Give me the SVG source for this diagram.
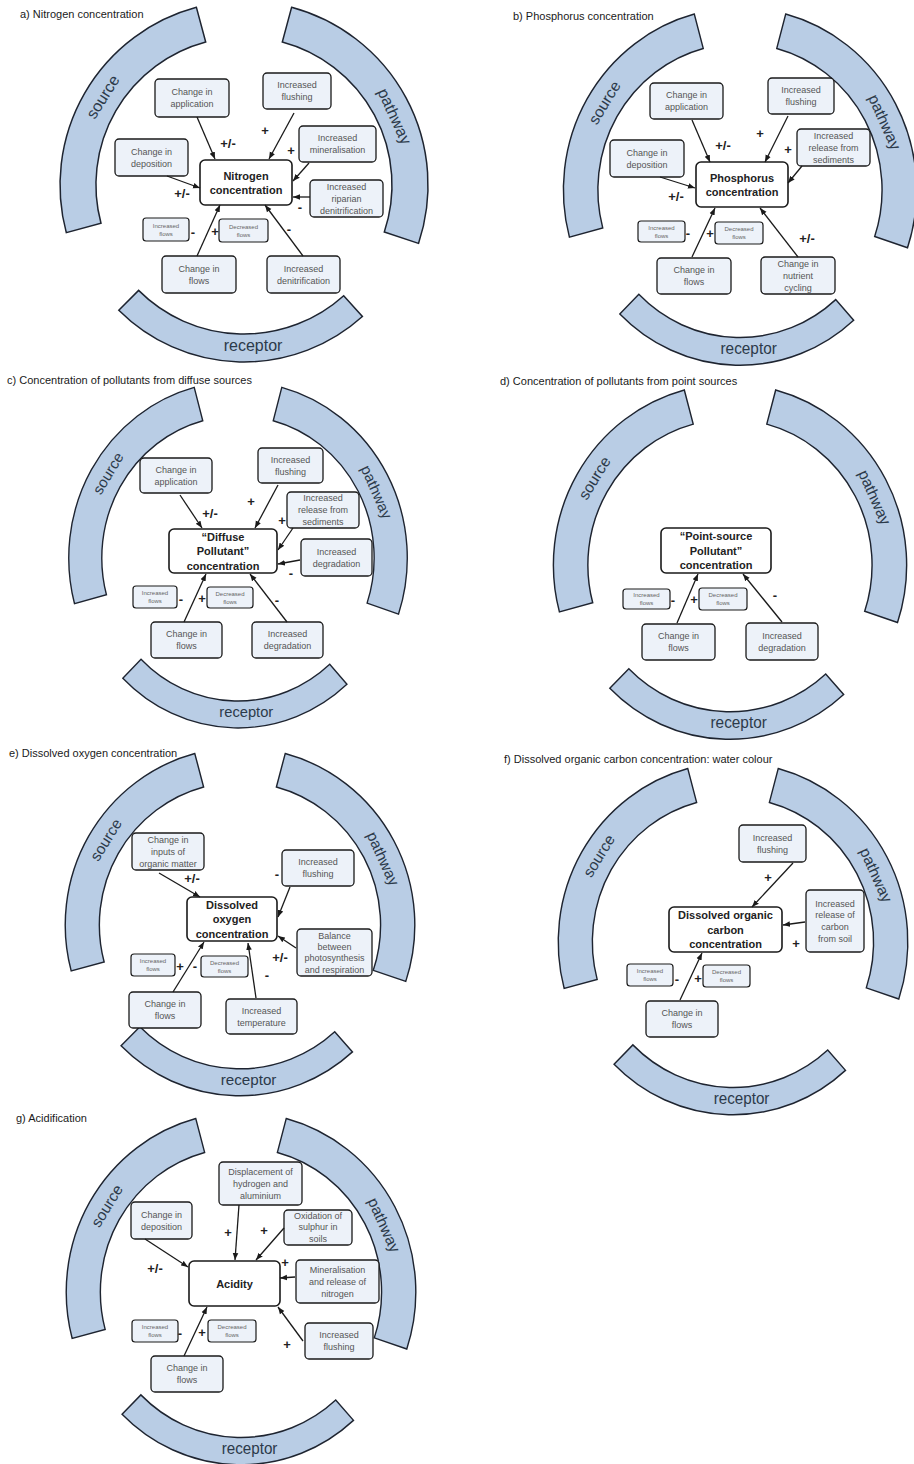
<svg xmlns="http://www.w3.org/2000/svg" xmlns:xlink="http://www.w3.org/1999/xlink" width="914" height="1464" viewBox="0 0 914 1464">
<style>
.band{fill:#b9cde5;stroke:#1e2430;stroke-width:1.5;vector-effect:non-scaling-stroke}
.bt{font-family:"Liberation Sans",Arial,sans-serif;font-size:16px;fill:#2c3a4a;text-anchor:middle}
.title{font-family:"Liberation Sans",Arial,sans-serif;font-size:11px;fill:#1a1a1a}
.nb{fill:#edf2f9;stroke:#1a1a1a;stroke-width:1.3}
.sb{fill:#edf2f9;stroke:#1a1a1a;stroke-width:1.2}
.cb{fill:#ffffff;stroke:#1a1a1a;stroke-width:1.6}
.t{font-family:"Liberation Sans",Arial,sans-serif;font-size:9px;fill:#555;text-anchor:middle}
.ts{font-family:"Liberation Sans",Arial,sans-serif;font-size:6px;fill:#666;text-anchor:middle}
.tc{font-family:"Liberation Sans",Arial,sans-serif;font-size:11px;font-weight:bold;fill:#222;text-anchor:middle}
.sg{font-family:"Liberation Sans",Arial,sans-serif;font-size:13px;font-weight:bold;fill:#222;text-anchor:middle}
.conn line{stroke:#1a1a1a;stroke-width:1.3;marker-end:url(#ah)}
</style>
<defs>
<marker id="ah" viewBox="0 0 10 10" refX="10" refY="5" markerWidth="7" markerHeight="7" orient="auto" markerUnits="userSpaceOnUse"><path d="M0,1 L10,5 L0,9 Z" fill="#1a1a1a"/></marker>
<path id="rs" d="M-177.7,47.6 A184,184 0 0 1 -47.6,-177.7 L-38.3,-143 A148,148 0 0 0 -143,38.3 Z"/>
<path id="rp" d="M47.6,-177.7 A184,184 0 0 1 174.5,58.4 L140.3,47 A148,148 0 0 0 38.3,-143 Z"/>
<path id="rr" d="M118.4,131.5 A177,177 0 0 1 -125.2,125.2 L-105.4,105.4 A149,149 0 0 0 99.7,110.7 Z"/>
<g id="ring">
<use href="#rs" class="band"/><use href="#rp" class="band"/><use href="#rr" class="band"/>
<text class="bt" transform="translate(-136.5,-85.3) rotate(-58)" x="0" y="0">source</text>
<text class="bt" transform="translate(145.6,-66.4) rotate(65.5)" x="0" y="0">pathway</text>
<text class="bt" x="9" y="166">receptor</text>
</g>
</defs>

<!-- Panel a -->
<g id="panel-a">
<text class="title" x="20" y="18">a) Nitrogen concentration</text>
<g id="a-ring" transform="translate(244,185)"><use href="#ring"/></g>
<g id="a-app"><rect class="nb" x="155" y="79" width="74" height="38" rx="4"/><text class="t"><tspan x="192" y="95.2">Change in</tspan><tspan x="192" y="107.2">application</tspan></text></g>
<g id="a-flush"><rect class="nb" x="263" y="73" width="68" height="36" rx="4"/><text class="t"><tspan x="297" y="88.2">Increased</tspan><tspan x="297" y="100.2">flushing</tspan></text></g>
<g id="a-miner"><rect class="nb" x="299" y="126" width="77" height="36" rx="4"/><text class="t"><tspan x="337.5" y="141.2">Increased</tspan><tspan x="337.5" y="153.2">mineralisation</tspan></text></g>
<g id="a-depo"><rect class="nb" x="115" y="139" width="73" height="37" rx="4"/><text class="t"><tspan x="151.5" y="154.7">Change in</tspan><tspan x="151.5" y="166.7">deposition</tspan></text></g>
<g id="a-central"><rect class="cb" x="200" y="160" width="92" height="45" rx="5"/><text class="tc"><tspan x="246" y="180">Nitrogen</tspan><tspan x="246" y="194">concentration</tspan></text></g>
<g id="a-riparian"><rect class="nb" x="310" y="180" width="73" height="37" rx="4"/><text class="t"><tspan x="346.5" y="189.7">Increased</tspan><tspan x="346.5" y="201.7">riparian</tspan><tspan x="346.5" y="213.7">denitrification</tspan></text></g>
<g id="a-incflows"><rect class="sb" x="143" y="218" width="46" height="23" rx="3"/><text class="ts"><tspan x="166" y="227.5">Increased</tspan><tspan x="166" y="235.5">flows</tspan></text></g>
<g id="a-decflows"><rect class="sb" x="219" y="219" width="49" height="23" rx="3"/><text class="ts"><tspan x="243.5" y="228.5">Decreased</tspan><tspan x="243.5" y="236.5">flows</tspan></text></g>
<g id="a-chflows"><rect class="nb" x="162" y="256" width="74" height="37" rx="4"/><text class="t"><tspan x="199" y="271.7">Change in</tspan><tspan x="199" y="283.7">flows</tspan></text></g>
<g id="a-denit"><rect class="nb" x="267" y="256" width="73" height="37" rx="4"/><text class="t"><tspan x="303.5" y="271.7">Increased</tspan><tspan x="303.5" y="283.7">denitrification</tspan></text></g>
<g id="a-connectors" class="conn">
<line x1="197" y1="117" x2="215" y2="159"/>
<line x1="294" y1="113" x2="269" y2="159"/>
<line x1="309" y1="163" x2="293" y2="181"/>
<line x1="167" y1="176" x2="200" y2="188"/>
<line x1="310" y1="197" x2="293" y2="197"/>
<line x1="197" y1="256" x2="220" y2="205"/>
<line x1="303" y1="256" x2="265" y2="205"/>
</g>
<g id="a-signs">
<text class="sg" x="228" y="147.5">+/-</text>
<text class="sg" x="265" y="134.5">+</text>
<text class="sg" x="291" y="154.5">+</text>
<text class="sg" x="182" y="197.5">+/-</text>
<text class="sg" x="300" y="211.5">-</text>
<text class="sg" x="193" y="236.5">-</text>
<text class="sg" x="215" y="235.5">+</text>
<text class="sg" x="289" y="233.5">-</text>
</g>
</g>

<!-- Panel b -->
<g id="panel-b">
<text class="title" x="513" y="20">b) Phosphorus concentration</text>
<g id="b-ring" transform="translate(740,190) scale(0.96,0.99)"><use href="#ring"/></g>
<g id="b-app"><rect class="nb" x="650" y="83" width="73" height="36" rx="4"/><text class="t"><tspan x="686.5" y="98.2">Change in</tspan><tspan x="686.5" y="110.2">application</tspan></text></g>
<g id="b-flush"><rect class="nb" x="768" y="78" width="66" height="36" rx="4"/><text class="t"><tspan x="801" y="93.2">Increased</tspan><tspan x="801" y="105.2">flushing</tspan></text></g>
<g id="b-depo"><rect class="nb" x="610" y="140" width="74" height="37" rx="4"/><text class="t"><tspan x="647" y="155.7">Change in</tspan><tspan x="647" y="167.7">deposition</tspan></text></g>
<g id="b-release"><rect class="nb" x="797" y="129" width="73" height="37" rx="4"/><text class="t"><tspan x="833.5" y="138.7">Increased</tspan><tspan x="833.5" y="150.7">release from</tspan><tspan x="833.5" y="162.7">sediments</tspan></text></g>
<g id="b-central"><rect class="cb" x="696" y="162" width="92" height="45" rx="5"/><text class="tc"><tspan x="742" y="182">Phosphorus</tspan><tspan x="742" y="196">concentration</tspan></text></g>
<g id="b-incflows"><rect class="sb" x="638" y="221" width="47" height="21" rx="3"/><text class="ts"><tspan x="661.5" y="229.5">Increased</tspan><tspan x="661.5" y="237.5">flows</tspan></text></g>
<g id="b-decflows"><rect class="sb" x="715" y="222" width="48" height="22" rx="3"/><text class="ts"><tspan x="739" y="231">Decreased</tspan><tspan x="739" y="239">flows</tspan></text></g>
<g id="b-chflows"><rect class="nb" x="657" y="258" width="74" height="36" rx="4"/><text class="t"><tspan x="694" y="273.2">Change in</tspan><tspan x="694" y="285.2">flows</tspan></text></g>
<g id="b-nutrient"><rect class="nb" x="761" y="257" width="74" height="37" rx="4"/><text class="t"><tspan x="798" y="266.7">Change in</tspan><tspan x="798" y="278.7">nutrient</tspan><tspan x="798" y="290.7">cycling</tspan></text></g>
<g id="b-connectors" class="conn">
<line x1="692" y1="120" x2="710" y2="162"/>
<line x1="788" y1="116" x2="765" y2="162"/>
<line x1="802" y1="166" x2="788" y2="183"/>
<line x1="660" y1="177" x2="695" y2="188"/>
<line x1="692" y1="257" x2="715" y2="208"/>
<line x1="798" y1="257" x2="760" y2="208"/>
</g>
<g id="b-signs">
<text class="sg" x="723" y="149.5">+/-</text>
<text class="sg" x="760" y="137.5">+</text>
<text class="sg" x="788" y="153.5">+</text>
<text class="sg" x="676" y="200.5">+/-</text>
<text class="sg" x="688" y="237.5">-</text>
<text class="sg" x="710" y="237.5">+</text>
<text class="sg" x="807" y="242.5">+/-</text>
</g>
</g>

<!-- Panel c -->
<g id="panel-c">
<text class="title" x="7" y="384">c) Concentration of pollutants from diffuse sources</text>
<g id="c-ring" transform="translate(238,558) scale(0.92,0.96)"><use href="#ring"/></g>
<g id="c-app"><rect class="nb" x="140" y="458" width="72" height="35" rx="4"/><text class="t"><tspan x="176" y="472.7">Change in</tspan><tspan x="176" y="484.7">application</tspan></text></g>
<g id="c-flush"><rect class="nb" x="258" y="448" width="65" height="35" rx="4"/><text class="t"><tspan x="290.5" y="462.7">Increased</tspan><tspan x="290.5" y="474.7">flushing</tspan></text></g>
<g id="c-release"><rect class="nb" x="287" y="492" width="72" height="36" rx="4"/><text class="t"><tspan x="323" y="501.2">Increased</tspan><tspan x="323" y="513.2">release from</tspan><tspan x="323" y="525.2">sediments</tspan></text></g>
<g id="c-central"><rect class="cb" x="169" y="529" width="108" height="44" rx="5"/><text class="tc"><tspan x="223" y="540.5">“Diffuse</tspan><tspan x="223" y="555">Pollutant”</tspan><tspan x="223" y="569.5">concentration</tspan></text></g>
<g id="c-degr1"><rect class="nb" x="301" y="539" width="71" height="37" rx="4"/><text class="t"><tspan x="336.5" y="554.7">Increased</tspan><tspan x="336.5" y="566.7">degradation</tspan></text></g>
<g id="c-incflows"><rect class="sb" x="133" y="586" width="44" height="22" rx="3"/><text class="ts"><tspan x="155" y="595">Increased</tspan><tspan x="155" y="603">flows</tspan></text></g>
<g id="c-decflows"><rect class="sb" x="207" y="587" width="46" height="21" rx="3"/><text class="ts"><tspan x="230" y="595.5">Decreased</tspan><tspan x="230" y="603.5">flows</tspan></text></g>
<g id="c-chflows"><rect class="nb" x="151" y="622" width="71" height="36" rx="4"/><text class="t"><tspan x="186.5" y="637.2">Change in</tspan><tspan x="186.5" y="649.2">flows</tspan></text></g>
<g id="c-degr2"><rect class="nb" x="252" y="622" width="71" height="36" rx="4"/><text class="t"><tspan x="287.5" y="637.2">Increased</tspan><tspan x="287.5" y="649.2">degradation</tspan></text></g>
<g id="c-connectors" class="conn">
<line x1="180" y1="495" x2="202" y2="528"/>
<line x1="278" y1="485" x2="255" y2="528"/>
<line x1="293" y1="528" x2="278" y2="550"/>
<line x1="300" y1="560" x2="278" y2="564"/>
<line x1="184" y1="622" x2="206" y2="574"/>
<line x1="287" y1="622" x2="250" y2="574"/>
</g>
<g id="c-signs">
<text class="sg" x="210" y="517.5">+/-</text>
<text class="sg" x="251" y="505.5">+</text>
<text class="sg" x="282" y="524.5">+</text>
<text class="sg" x="291" y="577.5">-</text>
<text class="sg" x="181" y="603.5">-</text>
<text class="sg" x="202" y="602.5">+</text>
<text class="sg" x="277" y="604.5">-</text>
</g>
</g>

<!-- Panel d -->
<g id="panel-d">
<text class="title" x="500" y="385">d) Concentration of pollutants from point sources</text>
<g id="d-ring" transform="translate(730,565) scale(0.96,0.985)"><use href="#ring"/></g>
<g id="d-central"><rect class="cb" x="661" y="528" width="110" height="45" rx="5"/><text class="tc"><tspan x="716" y="540">“Point-source</tspan><tspan x="716" y="554.5">Pollutant”</tspan><tspan x="716" y="569">concentration</tspan></text></g>
<g id="d-incflows"><rect class="sb" x="623" y="589" width="47" height="20" rx="3"/><text class="ts"><tspan x="646.5" y="597">Increased</tspan><tspan x="646.5" y="605">flows</tspan></text></g>
<g id="d-decflows"><rect class="sb" x="699" y="588" width="48" height="22" rx="3"/><text class="ts"><tspan x="723" y="597">Decreased</tspan><tspan x="723" y="605">flows</tspan></text></g>
<g id="d-chflows"><rect class="nb" x="642" y="624" width="73" height="36" rx="4"/><text class="t"><tspan x="678.5" y="639.2">Change in</tspan><tspan x="678.5" y="651.2">flows</tspan></text></g>
<g id="d-degr"><rect class="nb" x="746" y="623" width="72" height="37" rx="4"/><text class="t"><tspan x="782" y="638.7">Increased</tspan><tspan x="782" y="650.7">degradation</tspan></text></g>
<g id="d-connectors" class="conn">
<line x1="677" y1="623" x2="698" y2="574"/>
<line x1="782" y1="622" x2="743" y2="574"/>
</g>
<g id="d-signs">
<text class="sg" x="673" y="604.5">-</text>
<text class="sg" x="694" y="603.5">+</text>
<text class="sg" x="775" y="599.5">-</text>
</g>
</g>

<!-- Panel e -->
<g id="panel-e">
<text class="title" x="9" y="757">e) Dissolved oxygen concentration</text>
<g id="e-ring" transform="translate(240,925) scale(0.95,0.965)"><use href="#ring"/></g>
<g id="e-inputs"><rect class="nb" x="132" y="833" width="72" height="37" rx="4"/><text class="t"><tspan x="168" y="842.7">Change in</tspan><tspan x="168" y="854.7">inputs of</tspan><tspan x="168" y="866.7">organic matter</tspan></text></g>
<g id="e-flush"><rect class="nb" x="282" y="850" width="72" height="36" rx="4"/><text class="t"><tspan x="318" y="865.2">Increased</tspan><tspan x="318" y="877.2">flushing</tspan></text></g>
<g id="e-central"><rect class="cb" x="187" y="897" width="90" height="44" rx="5"/><text class="tc"><tspan x="232" y="908.5">Dissolved</tspan><tspan x="232" y="923">oxygen</tspan><tspan x="232" y="937.5">concentration</tspan></text></g>
<g id="e-balance"><rect class="nb" x="297" y="929" width="75" height="47" rx="4"/><text class="t"><tspan x="334.5" y="938.8">Balance</tspan><tspan x="334.5" y="950.1">between</tspan><tspan x="334.5" y="961.4">photosynthesis</tspan><tspan x="334.5" y="972.7">and respiration</tspan></text></g>
<g id="e-incflows"><rect class="sb" x="131" y="954" width="44" height="22" rx="3"/><text class="ts"><tspan x="153" y="963">Increased</tspan><tspan x="153" y="971">flows</tspan></text></g>
<g id="e-decflows"><rect class="sb" x="201" y="956" width="47" height="21" rx="3"/><text class="ts"><tspan x="224.5" y="964.5">Decreased</tspan><tspan x="224.5" y="972.5">flows</tspan></text></g>
<g id="e-chflows"><rect class="nb" x="129" y="992" width="72" height="36" rx="4"/><text class="t"><tspan x="165" y="1007.2">Change in</tspan><tspan x="165" y="1019.2">flows</tspan></text></g>
<g id="e-temp"><rect class="nb" x="226" y="999" width="71" height="35" rx="4"/><text class="t"><tspan x="261.5" y="1013.7">Increased</tspan><tspan x="261.5" y="1025.7">temperature</tspan></text></g>
<g id="e-connectors" class="conn">
<line x1="159" y1="873" x2="200" y2="897"/>
<line x1="290" y1="887" x2="278" y2="917"/>
<line x1="296" y1="948" x2="278" y2="936"/>
<line x1="173" y1="992" x2="204" y2="942"/>
<line x1="256" y1="998" x2="248" y2="943"/>
</g>
<g id="e-signs">
<text class="sg" x="192" y="882.5">+/-</text>
<text class="sg" x="277" y="878.5">-</text>
<text class="sg" x="280" y="961.5">+/-</text>
<text class="sg" x="180" y="970.5">+</text>
<text class="sg" x="195" y="970.5">-</text>
<text class="sg" x="267" y="979.5">-</text>
</g>
</g>

<!-- Panel f -->
<g id="panel-f">
<text class="title" x="504" y="763">f) Dissolved organic carbon concentration: water colour</text>
<g id="f-ring" transform="translate(733,942) scale(0.95,0.976)"><use href="#ring"/></g>
<g id="f-flush"><rect class="nb" x="739" y="825" width="67" height="37" rx="4"/><text class="t"><tspan x="772.5" y="840.7">Increased</tspan><tspan x="772.5" y="852.7">flushing</tspan></text></g>
<g id="f-central"><rect class="cb" x="669" y="907" width="113" height="45" rx="5"/><text class="tc"><tspan x="725.5" y="919">Dissolved organic</tspan><tspan x="725.5" y="933.5">carbon</tspan><tspan x="725.5" y="948">concentration</tspan></text></g>
<g id="f-release"><rect class="nb" x="806" y="890" width="58" height="62" rx="4"/><text class="t"><tspan x="835" y="906.7">Increased</tspan><tspan x="835" y="918.4">release of</tspan><tspan x="835" y="930.1">carbon</tspan><tspan x="835" y="941.8">from soil</tspan></text></g>
<g id="f-incflows"><rect class="sb" x="627" y="964" width="46" height="22" rx="3"/><text class="ts"><tspan x="650" y="973">Increased</tspan><tspan x="650" y="981">flows</tspan></text></g>
<g id="f-decflows"><rect class="sb" x="703" y="965" width="47" height="22" rx="3"/><text class="ts"><tspan x="726.5" y="974">Decreased</tspan><tspan x="726.5" y="982">flows</tspan></text></g>
<g id="f-chflows"><rect class="nb" x="646" y="1001" width="72" height="36" rx="4"/><text class="t"><tspan x="682" y="1016.2">Change in</tspan><tspan x="682" y="1028.2">flows</tspan></text></g>
<g id="f-connectors" class="conn">
<line x1="793" y1="863" x2="752" y2="907"/>
<line x1="805" y1="922" x2="783" y2="925"/>
<line x1="680" y1="1000" x2="702" y2="953"/>
</g>
<g id="f-signs">
<text class="sg" x="768" y="881.5">+</text>
<text class="sg" x="796" y="947.5">+</text>
<text class="sg" x="677" y="983.5">-</text>
<text class="sg" x="698" y="982.5">+</text>
</g>
</g>

<!-- Panel g -->
<g id="panel-g">
<text class="title" x="16" y="1122">g) Acidification</text>
<g id="g-ring" transform="translate(241,1292) scale(0.95,0.976)"><use href="#ring"/></g>
<g id="g-displ"><rect class="nb" x="219" y="1162" width="83" height="43" rx="4"/><text class="t"><tspan x="260.5" y="1174.7">Displacement of</tspan><tspan x="260.5" y="1186.7">hydrogen and</tspan><tspan x="260.5" y="1198.7">aluminium</tspan></text></g>
<g id="g-depo"><rect class="nb" x="131" y="1202" width="61" height="37" rx="4"/><text class="t"><tspan x="161.5" y="1217.7">Change in</tspan><tspan x="161.5" y="1229.7">deposition</tspan></text></g>
<g id="g-oxid"><rect class="nb" x="284" y="1210" width="68" height="35" rx="4"/><text class="t"><tspan x="318" y="1218.7">Oxidation of</tspan><tspan x="318" y="1230.2">sulphur in</tspan><tspan x="318" y="1241.7">soils</tspan></text></g>
<g id="g-central"><rect class="cb" x="189" y="1261" width="91" height="45" rx="5"/><text class="tc" x="234.5" y="1287.5">Acidity</text></g>
<g id="g-miner"><rect class="nb" x="296" y="1260" width="83" height="43" rx="4"/><text class="t"><tspan x="337.5" y="1272.7">Mineralisation</tspan><tspan x="337.5" y="1284.7">and release of</tspan><tspan x="337.5" y="1296.7">nitrogen</tspan></text></g>
<g id="g-incflows"><rect class="sb" x="132" y="1320" width="46" height="22" rx="3"/><text class="ts"><tspan x="155" y="1329">Increased</tspan><tspan x="155" y="1337">flows</tspan></text></g>
<g id="g-decflows"><rect class="sb" x="208" y="1320" width="48" height="22" rx="3"/><text class="ts"><tspan x="232" y="1329">Decreased</tspan><tspan x="232" y="1337">flows</tspan></text></g>
<g id="g-flush"><rect class="nb" x="305" y="1323" width="68" height="36" rx="4"/><text class="t"><tspan x="339" y="1338.2">Increased</tspan><tspan x="339" y="1350.2">flushing</tspan></text></g>
<g id="g-chflows"><rect class="nb" x="151" y="1356" width="72" height="36" rx="4"/><text class="t"><tspan x="187" y="1371.2">Change in</tspan><tspan x="187" y="1383.2">flows</tspan></text></g>
<g id="g-connectors" class="conn">
<line x1="239" y1="1205" x2="235" y2="1260"/>
<line x1="284" y1="1228" x2="256" y2="1260"/>
<line x1="145" y1="1239" x2="188" y2="1267"/>
<line x1="295" y1="1277" x2="280" y2="1278"/>
<line x1="303" y1="1341" x2="278" y2="1307"/>
<line x1="184" y1="1356" x2="207" y2="1307"/>
</g>
<g id="g-signs">
<text class="sg" x="228" y="1236.5">+</text>
<text class="sg" x="264" y="1234.5">+</text>
<text class="sg" x="155" y="1272.5">+/-</text>
<text class="sg" x="285" y="1266.5">+</text>
<text class="sg" x="180" y="1337.5">-</text>
<text class="sg" x="202" y="1336.5">+</text>
<text class="sg" x="287" y="1348.5">+</text>
</g>
</g>
</svg>
